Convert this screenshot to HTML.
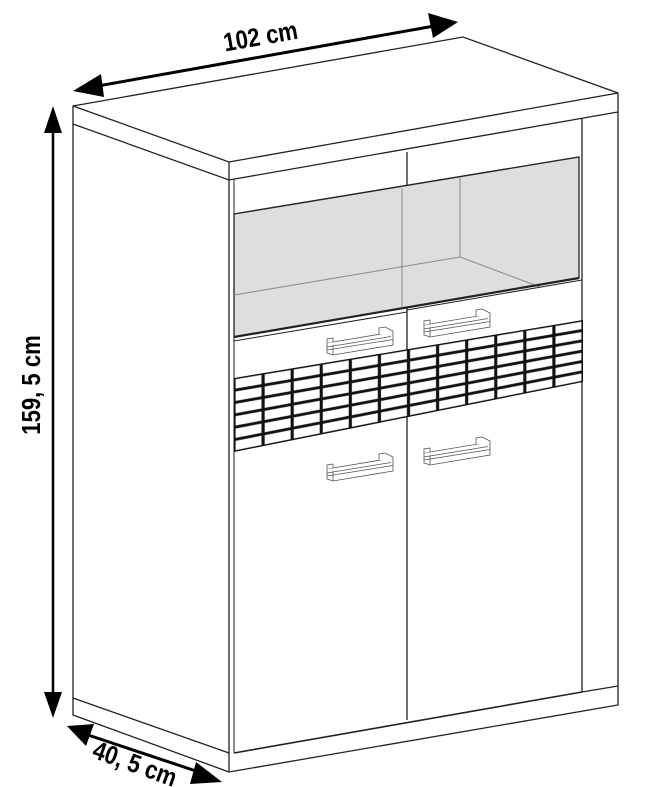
<!DOCTYPE html>
<html><head><meta charset="utf-8"><style>
html,body{margin:0;padding:0;background:#fff;}
svg{display:block;}
text{font-family:"Liberation Sans Narrow","Liberation Sans",sans-serif;font-weight:bold;fill:#000;}
</style></head><body>
<svg width="659" height="787" viewBox="0 0 659 787" xmlns="http://www.w3.org/2000/svg">
<defs>
<g id="h" fill="#fff" stroke="#555" stroke-width="0.8">
<path d="M0,10 L60,0 L66,2 L66,12 L6,22 L0,20 Z"/>
<path d="M0,14 L64,3.5 M0,17 L66,6.5 M6,22 L6,12" fill="none"/>
<path d="M52,1 L52,-5 L58,-6 L66,-2 L66,2" />
<path d="M0,10 L0,6 L6,5 L6,9" />
</g>
</defs>
<g fill="none" stroke="#222" stroke-width="1.3">
<path d="M73,106 L463,37 L618,93 L618,112 L229,180 L73,124 Z" fill="#fff"/>
<path d="M73,106 L229,162 L618,93 M229,162 L229,180"/>
<path d="M73,124 L73,715 L229,772 M73,698 L229,753"/>
<path d="M229,180 L229,772"/>
<path d="M234,180 L234,753" stroke-width="1"/>
<path d="M618,112 L618,705 L229,772"/>
<path d="M582,118 L582,692 L618,686"/>
<path d="M407,152 L407,720"/>
<path d="M234,753 L582,692" stroke-width="1.6"/>
<path d="M234,214 L579,157"/>
</g>
<path d="M234,214 L579,157 L579,278 L234,337 Z" fill="#dedede" stroke="#222" stroke-width="1.3"/>
<g stroke="#888" stroke-width="1" fill="none">
<path d="M460,178 L460,257 L234,295 M460,257 L540,287"/>
<path d="M402,188 L402,308"/>
</g>
<path d="M234,337 L579,278" stroke="#222" stroke-width="2.2"/>
<path d="M234,341 L407,312 M407,310 L582,280" stroke="#222" stroke-width="1"/>
<g id="grid"></g>
<use href="#h" x="327" y="333"/>
<use href="#h" x="424" y="315"/>
<use href="#h" x="327" y="459"/>
<use href="#h" x="424" y="443"/>
<g fill="#000" stroke="#000">
<path d="M92,87 L440,25" stroke-width="3"/>
<polygon points="73,91 101,74 104,97" stroke="none"/>
<polygon points="458,22 428,13 433,38" stroke="none"/>
<path d="M53,125 L53,700" stroke-width="2.5"/>
<polygon points="53,106 44,133 62,133" stroke="none"/>
<polygon points="53,718 44,692 62,692" stroke="none"/>
<path d="M85,734 L205,774" stroke-width="3"/>
<polygon points="67,726 94,724 86,746" stroke="none"/>
<polygon points="222,782 196,762 190,784" stroke="none"/>
</g>
<text x="0" y="0" font-size="26" text-anchor="middle" transform="translate(262,45) rotate(-10) scale(0.85,1)">102 cm</text>
<text x="0" y="0" font-size="26" text-anchor="middle" transform="translate(40,385) rotate(-90) scale(0.85,1)">159, 5 cm</text>
<text x="0" y="0" font-size="26" text-anchor="middle" transform="translate(132,772) rotate(20) scale(0.85,1)">40, 5 cm</text>
</svg>
<script>
(function(){
var g=document.getElementById('grid');var ns='http://www.w3.org/2000/svg';
var xl=234,xr=583;
function top(x){return 378+(x-xl)*(-58/349);}
function bot(x){return 452+(x-xl)*(-70/349);}
var poly=document.createElementNS(ns,'polygon');
poly.setAttribute('points',xl+','+top(xl)+' '+xr+','+top(xr)+' '+xr+','+bot(xr)+' '+xl+','+bot(xl));
poly.setAttribute('fill','#111');g.appendChild(poly);
var C=12,R=6,gx=1.6,gy=1.5;
function y(x,f){return top(x)+(bot(x)-top(x))*f;}
for(var i=0;i<C;i++){for(var j=0;j<R;j++){
var x0=xl+(xr-xl)*i/C+gx,x1=xl+(xr-xl)*(i+1)/C-gx;
var f0=j/R,f1=(j+1)/R;
var p=document.createElementNS(ns,'polygon');
p.setAttribute('points',x0+','+(y(x0,f0)+gy)+' '+x1+','+(y(x1,f0)+gy)+' '+x1+','+(y(x1,f1)-gy)+' '+x0+','+(y(x0,f1)-gy));
p.setAttribute('fill','#fff');p.setAttribute('stroke','#999');p.setAttribute('stroke-width','0.4');
g.appendChild(p);}}
})();
</script>
</body></html>
